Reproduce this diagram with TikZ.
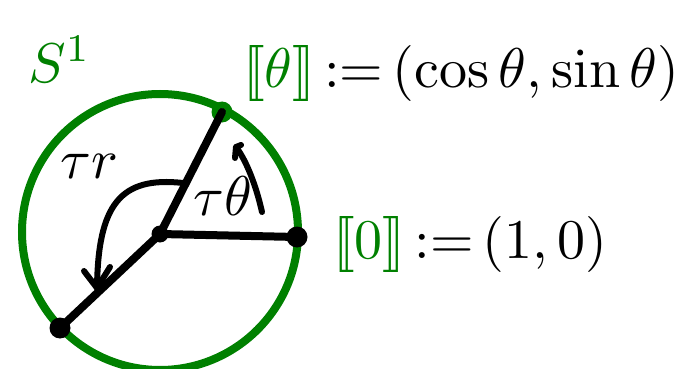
\documentclass[tikz,border=0pt]{standalone}
\usepackage{amsmath}
\usetikzlibrary{arrows.meta}
\definecolor{grn}{RGB}{0,128,0}
\newcommand{\bigtxt}[1]{\scalebox{5.6}{#1}}
\newcommand{\dbl}[1]{[\mkern-3mu[#1]\mkern-3mu]}
\tikzset{
  grline/.style={draw=grn, line width=8pt},
  bkline/.style={draw=black, line width=8pt, line cap=round},
  bkarrow/.style={draw=black, line width=6pt, line cap=round, line join=round},
  dotb/.style={circle, fill=black, inner sep=0pt, minimum size=21pt},
  dotg/.style={circle, fill=grn, inner sep=0pt, minimum size=21pt},
  dotc/.style={circle, fill=black, inner sep=0pt, minimum size=17pt},
  lbl/.style={inner sep=0pt},
}
\begin{document}
\begin{tikzpicture}[x=1pt,y=-1pt]
\useasboundingbox (0,0) rectangle (694,369);
% circle
\draw[grline] (160,232) circle (138);
\node[dotc] (O) at (160,234) {};
\node[dotb] (P0) at (297,237) {};
\node[dotg] (Pt) at (222,112) {};
\node[dotb] (Pr) at (60,328) {};
\draw[bkline] (O.center) -- (P0.center);
\draw[bkline] (O.center) -- (Pt.center);
\draw[bkline] (O.center) -- (Pr.center);
% arrows
\coordinate (a1s) at (262,212);
\coordinate (a1e) at (236,147);
\draw[bkarrow] (a1s) .. controls (256,185) and (246,160) .. (a1e);
\draw[bkarrow] (241,145) -- (a1e) -- (235,158);
\coordinate (a2s) at (183,183);
\coordinate (a2e) at (97,288);
\draw[bkarrow] (a2s) .. controls (120,176) and (98,205) .. (a2e);
\draw[bkarrow] (84,271) -- (a2e) -- (110,267);
% labels
\node[lbl, text=grn, anchor=base west] (S) at (28,82) {\bigtxt{$S^1$}};
\node[lbl, anchor=base west] (tr) at (60,178) {\bigtxt{$\tau r$}};
\node[lbl, anchor=base west] (tt) at (193,215) {\bigtxt{$\tau\theta$}};
\node[lbl, text=grn, anchor=base west] (th) at (243,88) {\bigtxt{$\dbl{\theta}$}};
\node[lbl, anchor=base west] (thdef) at (th.base east) {\bigtxt{$\,{:=}\,(\cos\theta,\sin\theta)$}};
\node[lbl, text=grn, anchor=base west] (z) at (333,258) {\bigtxt{$\dbl{0}$}};
\node[lbl, anchor=base west] (zdef) at (z.base east) {\bigtxt{$\,{:=}\,(1,0)$}};
\end{tikzpicture}
\end{document}
